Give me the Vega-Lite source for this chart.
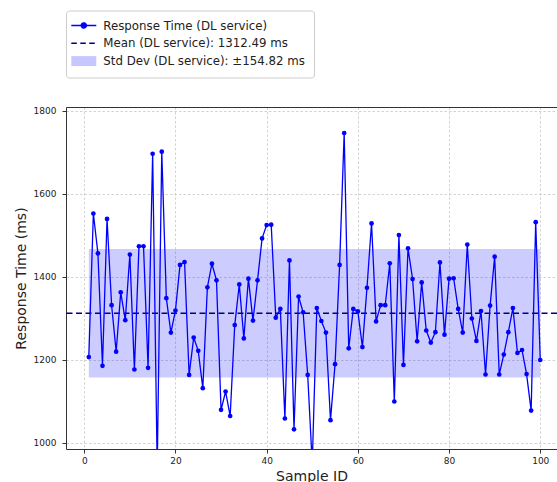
{
  "$schema": "https://vega.github.io/schema/vega-lite/v6.json",
  "width": 491,
  "height": 342,
  "autosize": {"type": "none"},
  "padding": {"left": 66, "top": 107, "right": 0, "bottom": 33},
  "background": "white",
  "config": {
    "font": "DejaVu Sans",
    "view": {"stroke": null},
    "axis": {
      "labelFont": "DejaVu Sans",
      "titleFont": "DejaVu Sans",
      "labelFontSize": 9,
      "titleFontSize": 14,
      "titleFontWeight": "normal",
      "labelColor": "#222222",
      "titleColor": "#222222",
      "domainColor": "#333333",
      "domainWidth": 1,
      "tickColor": "#333333",
      "tickSize": 4,
      "gridColor": "#c8c8c8",
      "gridDash": [2.5, 2],
      "gridWidth": 0.8
    },
    "legend": {
      "orient": "none",
      "legendX": 0,
      "legendY": -96.5,
      "padding": 9,
      "strokeColor": "#cccccc",
      "fillColor": "white",
      "cornerRadius": 3,
      "labelFont": "DejaVu Sans",
      "labelFontSize": 11.8,
      "labelColor": "#222222",
      "labelLimit": 400,
      "symbolSize": 100,
      "symbolOffset": 2.8,
      "labelOffset": 13.5,
      "rowPadding": 4.8,
      "symbolStrokeWidth": 1.5
    }
  },
  "datasets": {
    "series": [
      {"id": 1, "time": 1207}, {"id": 2, "time": 1553}, {"id": 3, "time": 1457}, {"id": 4, "time": 1186}, {"id": 5, "time": 1540},
      {"id": 6, "time": 1332}, {"id": 7, "time": 1220}, {"id": 8, "time": 1363}, {"id": 9, "time": 1296}, {"id": 10, "time": 1454},
      {"id": 11, "time": 1177}, {"id": 12, "time": 1474}, {"id": 13, "time": 1474}, {"id": 14, "time": 1181}, {"id": 15, "time": 1697},
      {"id": 16, "time": 940}, {"id": 17, "time": 1702}, {"id": 18, "time": 1349}, {"id": 19, "time": 1266}, {"id": 20, "time": 1319},
      {"id": 21, "time": 1429}, {"id": 22, "time": 1436}, {"id": 23, "time": 1164}, {"id": 24, "time": 1254}, {"id": 25, "time": 1222},
      {"id": 26, "time": 1132}, {"id": 27, "time": 1375}, {"id": 28, "time": 1432}, {"id": 29, "time": 1392}, {"id": 30, "time": 1080},
      {"id": 31, "time": 1124}, {"id": 32, "time": 1065}, {"id": 33, "time": 1284}, {"id": 34, "time": 1382}, {"id": 35, "time": 1252},
      {"id": 36, "time": 1396}, {"id": 37, "time": 1295}, {"id": 38, "time": 1392}, {"id": 39, "time": 1493}, {"id": 40, "time": 1525},
      {"id": 41, "time": 1526}, {"id": 42, "time": 1302}, {"id": 43, "time": 1323}, {"id": 44, "time": 1059}, {"id": 45, "time": 1440},
      {"id": 46, "time": 1033}, {"id": 47, "time": 1353}, {"id": 48, "time": 1315}, {"id": 49, "time": 1164}, {"id": 50, "time": 950},
      {"id": 51, "time": 1325}, {"id": 52, "time": 1294}, {"id": 53, "time": 1266}, {"id": 54, "time": 1055}, {"id": 55, "time": 1190},
      {"id": 56, "time": 1429}, {"id": 57, "time": 1747}, {"id": 58, "time": 1228}, {"id": 59, "time": 1323}, {"id": 60, "time": 1317},
      {"id": 61, "time": 1231}, {"id": 62, "time": 1374}, {"id": 63, "time": 1529}, {"id": 64, "time": 1293}, {"id": 65, "time": 1332},
      {"id": 66, "time": 1332}, {"id": 67, "time": 1433}, {"id": 68, "time": 1100}, {"id": 69, "time": 1501}, {"id": 70, "time": 1188},
      {"id": 71, "time": 1469}, {"id": 72, "time": 1395}, {"id": 73, "time": 1245}, {"id": 74, "time": 1387}, {"id": 75, "time": 1271},
      {"id": 76, "time": 1242}, {"id": 77, "time": 1267}, {"id": 78, "time": 1435}, {"id": 79, "time": 1261}, {"id": 80, "time": 1396},
      {"id": 81, "time": 1397}, {"id": 82, "time": 1323}, {"id": 83, "time": 1266}, {"id": 84, "time": 1478}, {"id": 85, "time": 1300},
      {"id": 86, "time": 1246}, {"id": 87, "time": 1318}, {"id": 88, "time": 1165}, {"id": 89, "time": 1331}, {"id": 90, "time": 1449},
      {"id": 91, "time": 1165}, {"id": 92, "time": 1213}, {"id": 93, "time": 1267}, {"id": 94, "time": 1325}, {"id": 95, "time": 1217},
      {"id": 96, "time": 1224}, {"id": 97, "time": 1166}, {"id": 98, "time": 1078}, {"id": 99, "time": 1532}, {"id": 100, "time": 1200}
    ],
    "band": [{"x1": 1, "x2": 100, "lo": 1157.67, "hi": 1467.31}],
    "mean": [{"mean": 1312.49}]
  },
  "layer": [
    {
      "data": {"name": "band"},
      "mark": {"type": "rect", "fillOpacity": 0.2, "strokeWidth": 0},
      "encoding": {
        "x": {"field": "x1", "type": "quantitative", "scale": {"domain": [-4.0, 103.67], "nice": false, "zero": false},
              "axis": {"orient": "top", "labels": false, "ticks": false, "grid": false, "title": null, "domain": true}},
        "x2": {"field": "x2"},
        "y": {"field": "lo", "type": "quantitative", "scale": {"domain": [985.5, 1809.6], "nice": false, "zero": false},
              "axis": {"title": "Response Time (ms)", "values": [1000, 1200, 1400, 1600, 1800], "format": "d", "grid": true, "labelPadding": 6, "titlePadding": 5}},
        "y2": {"field": "hi"},
        "color": {"datum": "Std Dev (DL service): ±154.82 ms", "type": "nominal",
                  "scale": {"domain": ["Response Time (DL service)", "Mean (DL service): 1312.49 ms", "Std Dev (DL service): ±154.82 ms"], "range": ["#0000ff", "#000080", "#0000ff"]},
                  "legend": {
                    "title": null,
                    "encode": {
                      "symbols": {
                        "update": {
                          "shape": [
                            {"test": "datum.value === 'Response Time (DL service)'", "value": "M-2.5,0H2.5M-0.5,0A0.5,0.5 0 1,0 0.5,0A0.5,0.5 0 1,0 -0.5,0Z"},
                            {"test": "datum.value === 'Mean (DL service): 1312.49 ms'", "value": "M-2.5,0H2.5"},
                            {"value": "M-2.5,-1H2.5V1H-2.5Z"}
                          ],
                          "fill": [
                            {"test": "datum.value === 'Response Time (DL service)'", "value": "#0000ff"},
                            {"test": "datum.value === 'Mean (DL service): 1312.49 ms'", "value": "transparent"},
                            {"value": "#ccccff"}
                          ],
                          "stroke": [
                            {"test": "datum.value === 'Response Time (DL service)'", "value": "#0000ff"},
                            {"test": "datum.value === 'Mean (DL service): 1312.49 ms'", "value": "#000080"},
                            {"value": "transparent"}
                          ],
                          "strokeDash": [
                            {"test": "datum.value === 'Mean (DL service): 1312.49 ms'", "value": [5.5, 3.5]},
                            {"value": [1, 0]}
                          ],
                          "strokeWidth": {"value": 1.5},
                          "opacity": {"value": 1},
                          "fillOpacity": [
                            {"test": "datum.value === 'Std Dev (DL service): ±154.82 ms'", "value": 0.22},
                            {"value": 1}
                          ],
                          "strokeOpacity": [
                            {"test": "datum.value === 'Std Dev (DL service): ±154.82 ms'", "value": 0},
                            {"value": 1}
                          ]
                        }
                      }
                    }
                  }}
      }
    },
    {
      "data": {"name": "mean"},
      "mark": {"type": "rule", "strokeDash": [6, 3.5], "strokeWidth": 1.6},
      "encoding": {
        "y": {"field": "mean", "type": "quantitative",
              "axis": {"title": "Response Time (ms)", "values": [1000, 1200, 1400, 1600, 1800], "format": "d", "grid": true, "labelPadding": 6, "titlePadding": 5}},
        "color": {"datum": "Mean (DL service): 1312.49 ms", "type": "nominal",
                  "scale": {"domain": ["Response Time (DL service)", "Mean (DL service): 1312.49 ms", "Std Dev (DL service): ±154.82 ms"], "range": ["#0000ff", "#000080", "#0000ff"]}}
      }
    },
    {
      "data": {"name": "series"},
      "mark": {"type": "line", "strokeWidth": 1.3, "clip": true},
      "encoding": {
        "x": {"field": "id", "type": "quantitative",
              "axis": {"title": "Sample ID", "values": [0, 20, 40, 60, 80, 100], "grid": true, "labelPadding": 3, "titlePadding": 4}},
        "y": {"field": "time", "type": "quantitative",
              "axis": {"title": "Response Time (ms)", "values": [1000, 1200, 1400, 1600, 1800], "format": "d", "grid": true, "labelPadding": 6, "titlePadding": 5}},
        "color": {"datum": "Response Time (DL service)", "type": "nominal",
                  "scale": {"domain": ["Response Time (DL service)", "Mean (DL service): 1312.49 ms", "Std Dev (DL service): ±154.82 ms"], "range": ["#0000ff", "#000080", "#0000ff"]}}
      }
    },
    {
      "data": {"name": "series"},
      "mark": {"type": "point", "filled": true, "size": 22, "opacity": 1, "clip": true},
      "encoding": {
        "x": {"field": "id", "type": "quantitative", "axis": null},
        "y": {"field": "time", "type": "quantitative",
              "axis": {"title": "Response Time (ms)", "values": [1000, 1200, 1400, 1600, 1800], "format": "d", "grid": true, "labelPadding": 6, "titlePadding": 5}},
        "color": {"datum": "Response Time (DL service)", "type": "nominal",
                  "scale": {"domain": ["Response Time (DL service)", "Mean (DL service): 1312.49 ms", "Std Dev (DL service): ±154.82 ms"], "range": ["#0000ff", "#000080", "#0000ff"]}}
      }
    }
  ],
  "resolve": {"axis": {"x": "independent"}}
}
